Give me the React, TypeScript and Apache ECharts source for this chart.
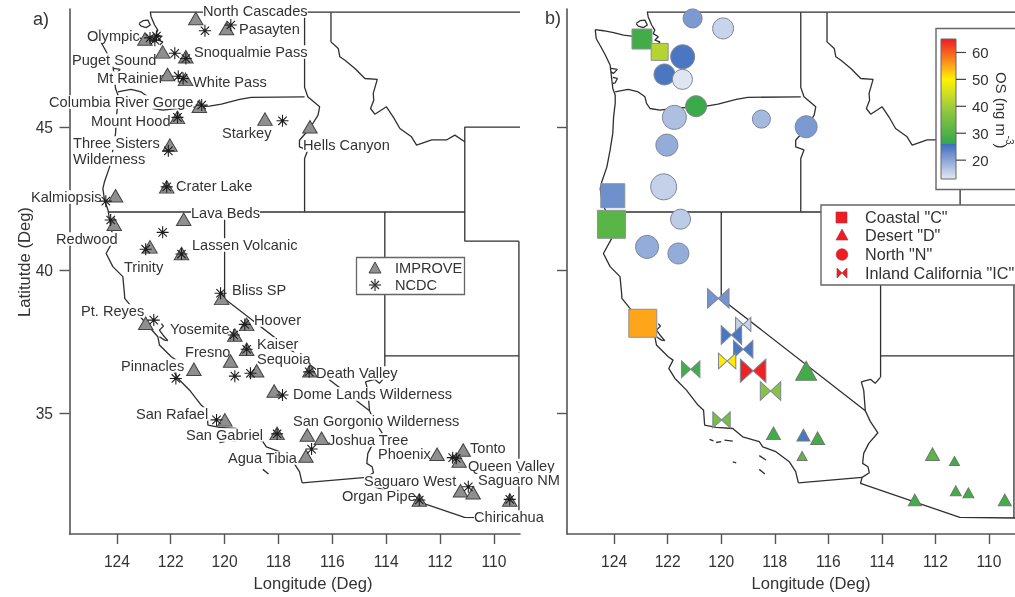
import React, { useEffect, useRef } from "react";
import * as echarts from "echarts";

// ---- IMPROVE sites (lon W as positive degrees, lat N) ----
const siteNames = ["North Cascades","Pasayten","Olympic","Puget Sound","Snoqualmie Pass","Mt Rainier","White Pass","Columbia River Gorge","Mount Hood","Starkey","Hells Canyon","Three Sisters","Crater Lake","Kalmiopsis","Redwood","Lava Beds","Trinity","Lassen Volcanic","Bliss SP","Pt. Reyes","Hoover","Yosemite","Kaiser","Fresno","Sequoia","Pinnacles","Death Valley","Dome Lands","San Rafael","San Gabriel","San Gorgonio","Joshua Tree","Agua Tibia","Phoenix","Tonto","Queen Valley","Saguaro West","Saguaro NM","Organ Pipe","Chiricahua"];
const siteLon = [121.07,119.93,122.96,122.30,121.44,122.12,121.45,120.94,121.75,118.50,116.83,122.03,122.15,124.05,124.10,121.52,122.77,121.60,120.11,122.93,119.18,119.62,119.18,119.78,118.81,121.14,116.83,118.16,119.99,118.05,116.93,116.40,116.98,112.11,111.14,111.29,111.24,110.77,112.77,109.41];
const siteLat = [48.80,48.45,48.08,47.63,47.46,46.84,46.67,45.73,45.34,45.28,45.01,44.37,42.91,42.60,41.60,41.78,40.81,40.58,39.01,38.14,38.10,37.73,37.23,36.82,36.48,36.53,36.48,35.77,34.76,34.29,34.23,34.12,33.50,33.56,33.71,33.32,32.28,32.21,31.96,31.96];

// ---- NCDC stations ----
const ncdcLon = [120.73,119.77,122.77,122.53,122.59,121.85,121.44,121.72,121.54,120.85,121.75,117.85,122.09,122.15,124.41,124.23,122.30,122.93,121.60,120.15,122.63,119.25,119.66,119.18,119.62,119.04,121.81,116.86,117.85,120.30,118.05,116.77,111.53,111.40,110.95,112.77,109.41];
const ncdcLat = [48.37,48.57,48.12,48.18,48.04,47.58,47.40,46.78,46.70,45.77,45.34,45.22,44.17,42.91,42.41,41.75,41.32,40.73,40.56,39.19,38.25,38.10,37.73,37.23,36.29,36.39,36.21,36.44,35.63,34.76,34.27,33.74,33.44,33.42,32.42,31.96,31.98];

// ---- Panel b: organic sulphate by source group ----
const coastalSites = ["Olympic","Puget Sound","Kalmiopsis","Redwood","Pt. Reyes"];
const coastalOS = [28,42,22.2,31,55];
const coastalSize = [20,17,24,28,28];
const northSites = ["North Cascades","Pasayten","Snoqualmie Pass","Mt Rainier","White Pass","Columbia River Gorge","Mount Hood","Starkey","Hells Canyon","Three Sisters","Crater Lake","Lava Beds","Trinity","Lassen Volcanic"];
const northOS = [21.2,15.2,25,25,13.3,27,17.3,18,21.2,19.3,15.5,16.1,19.3,19.3];
const northSize = [19,21,24,21,20,21,24,18,22,22,26,20,23,21];
const inlandSites = ["Bliss SP","Hoover","Yosemite","Kaiser","Fresno","Sequoia","Pinnacles","Dome Lands","San Rafael"];
const inlandOS = [21.8,15.4,25,25,50.5,64.5,28,37,35];
const inlandSize = [21,15,20,19,17,25,18,20,17];
const desertSites = ["Death Valley","San Gabriel","San Gorgonio","Joshua Tree","Agua Tibia","Phoenix","Queen Valley","Saguaro West","Saguaro NM","Organ Pipe","Chiricahua"];
const desertOS = [28,28,25,28,32,31,28,28,28,28,28];
const desertSize = [21,14,13,14,10,14,10,11,11,13,13];

// ---- Colour scale ----
const osStops: [number, string][] = [[13,"#e4e9f2"],[25.9,"#3f6dbe"],[26,"#33a84a"],[38,"#8ec63f"],[43,"#c0d72e"],[50,"#fff200"],[55,"#ffa51a"],[60,"#f6601e"],[65,"#ed1c24"]];
const osTicks = [20,30,40,50,60];

// ---- Map outlines, [lon, lat] ----
const border49: number[][] = [[122.77,49.02],[109.03,49.02]];
const waIdOr: number[][] = [[117.03,49.02],[117.03,46.39],[116.91,46.06],[116.47,45.71],[116.53,45.42],[116.84,44.95],[117.22,44.54],[117.22,44.31],[116.91,44.20],[117.03,43.90],[117.03,42.04]];
const columbia: number[][] = [[117.03,46.06],[119.01,46.04],[119.44,45.97],[120.12,45.80],[120.56,45.73],[120.99,45.71],[121.80,45.65],[122.29,45.59],[122.66,45.65],[122.79,45.83],[122.85,46.06],[123.10,46.23],[123.47,46.32],[123.78,46.27],[123.96,46.23]];
const lat42: number[][] = [[124.33,42.03],[111.08,42.03]];
const idMt: number[][] = [[116.05,49.01],[116.05,47.98],[115.78,47.75],[115.72,47.46],[115.53,47.34],[115.16,47.05],[114.79,46.70],[114.33,46.67],[114.48,46.18],[114.46,45.94],[114.58,45.65],[114.42,45.45],[113.99,45.71],[113.74,45.36],[113.49,44.95],[113.06,44.66],[112.87,44.37],[112.31,44.55],[111.76,44.55],[111.45,44.72],[111.08,44.49]];
const wyWest: number[][] = [[109.03,45.0],[111.08,45.0],[111.08,41.01],[109.07,41.01]];
const azUt: number[][] = [[114.05,37.0],[109.07,37.0]];
const nmWest: number[][] = [[109.07,41.01],[109.07,31.33]];
const nvUt: number[][] = [[114.05,42.03],[114.05,36.25]];
const caNv: number[][] = [[120,42.03],[120,39.0],[114.62,35.08]];
const azSouth: number[][] = [[114.74,32.75],[114.80,32.54],[111.09,31.35],[109.03,31.33]];
const caSouth: number[][] = [[117.12,32.56],[114.74,32.75]];
const coast: number[][] = [[124.705,48.41],[124.67,48.10],[124.46,47.75],[124.33,47.52],[124.15,47.17],[124.12,46.93],[124.05,46.35],[123.96,46.12],[123.96,45.83],[124.02,45.36],[124.05,44.78],[124.15,44.20],[124.27,43.61],[124.46,43.09],[124.52,42.85],[124.46,42.45],[124.33,42.10],[124.21,41.40],[124.09,41.11],[124.40,40.58],[124.15,40.12],[123.78,39.77],[123.72,39.18],[123.71,39.01],[123.41,38.66],[122.91,38.13],[122.48,37.67],[122.42,37.38],[121.98,36.97],[121.80,36.85],[121.96,36.56],[121.73,36.21],[121.30,35.80],[120.87,35.28],[120.66,35.10],[120.62,34.58],[120.19,34.50],[119.57,34.46],[119.20,34.17],[118.58,34.00],[118.45,33.82],[117.96,33.65],[117.46,33.30],[117.22,32.95],[117.12,32.56]];
const colorado: number[][] = [[114.74,32.75],[114.47,32.91],[114.52,33.12],[114.72,33.24],[114.68,33.59],[114.49,33.94],[114.15,34.31],[114.43,34.70],[114.62,35.08],[114.65,35.45],[114.68,35.80],[114.77,36.09],[114.43,36.18],[114.25,36.04],[114.06,36.25]];
const strait: number[][] = [[124.705,48.41],[124.40,48.37],[124.02,48.30],[123.65,48.22],[123.34,48.18],[122.97,48.06],[122.60,47.98]];
const sanJuan: number[][] = [[123.18,48.62],[123.03,48.72],[122.85,48.74],[122.76,48.57],[122.91,48.48],[123.10,48.53],[123.18,48.62]];
const puget: number[][] = [[122.76,49.03],[122.73,48.86],[122.60,48.57],[122.48,48.39],[122.54,48.27],[122.35,48.16],[122.48,48.04],[122.29,47.98],[122.41,47.87]];
const graysHarbor: number[][] = [[124.12,47.05],[123.88,47.02],[124.02,46.88],[124.12,46.93]];
const willapa: number[][] = [[124.05,46.74],[123.88,46.70],[123.96,46.55],[124.05,46.53]];
const sfBay: number[][] = [[122.35,38.13],[122.27,38.04],[122.42,37.90],[122.29,37.73],[122.11,37.53],[122.23,37.55],[122.42,37.67]];
const islandA: number[][] = [[120.44,34.08],[120.29,34.03]];
const islandB: number[][] = [[120.19,33.97],[120.00,34.00]];
const islandC: number[][] = [[119.88,34.05],[119.57,34.02]];
const islandD: number[][] = [[119.57,33.29],[119.44,33.26]];
const islandE: number[][] = [[118.58,33.51],[118.33,33.36]];
const islandF: number[][] = [[118.58,33.03],[118.37,32.87]];
const outlines = [border49,waIdOr,columbia,lat42,idMt,wyWest,azUt,nmWest,nvUt,caNv,azSouth,caSouth,coast,colorado,strait,sanJuan,puget,graysHarbor,willapa,sfBay,islandA,islandB,islandC,islandD,islandE,islandF];

const lonTicks = [124,122,120,118,116,114,112,110];
const latTicks = [45,40,35];

const FONT = "'Liberation Sans', Arial, sans-serif";
const TXT = "#333";
const STAR = "path://M0 -10L0 10M-10 0L10 0M-7 -7L7 7M-7 7L7 -7";
const BOW = "path://M0 0L-10 -10L-10 10ZM0 0L10 -10L10 10Z";

function hex(c: string) { return [1,3,5].map(i => parseInt(c.slice(i,i+2),16)); }
function osColor(v: number) {
  for (let i = 1; i < osStops.length; i++) {
    if (v <= osStops[i][0]) {
      const [a, ca] = osStops[i-1]; const [b, cb] = osStops[i];
      const t = Math.max(0,(v-a)/(b-a)); const A = hex(ca), B = hex(cb);
      return `rgb(${A.map((x,k)=>Math.round(x+(B[k]-x)*t)).join(",")})`;
    }
  }
  return osStops[osStops.length-1][1];
}

// label layout for panel a: [text, left px, centre-y px]
const labelLayout: [string, number, number][] = [
  ["North Cascades",203,11],["Pasayten",239,29],["Olympic",87,36],["Snoqualmie Pass",194,52],["Puget Sound",72,60],
  ["Mt Rainier",97,78],["White Pass",193,82],["Columbia River Gorge",49,102],["Mount Hood",91,121],["Starkey",222,133],
  ["Hells Canyon",303,145],["Three Sisters",73,143],["Wilderness",73,159],["Crater Lake",176,186],["Kalmiopsis",31,197],["Lava Beds",191,213],
  ["Redwood",56,239],["Lassen Volcanic",192,245],["Trinity",124,267],["Bliss SP",232,290],["Pt. Reyes",81,311],
  ["Hoover",254,320],["Yosemite",170,329],["Kaiser",257,344],["Fresno",185,352],["Sequoia",257,359],["Pinnacles",121,366],
  ["Death Valley",316,373],["Dome Lands Wilderness",293,394],["San Rafael",136,414],["San Gorgonio Wilderness",293,421],
  ["San Gabriel",186,435],["Joshua Tree",328,440],["Agua Tibia",228,458],["Phoenix",378,454],["Tonto",470,448],
  ["Queen Valley",468,465.5],["Saguaro NM",478,479.5],["Saguaro West",364,481],["Organ Pipe",342,496],["Chiricahua",474,517],
];

function txt(text: string, x: number, y: number, size: number, z = 2, extra: any = {}, styleExtra: any = {}) {
  return { type: "text", x, y, z, silent: true, ...extra,
    style: { text, font: `${size}px ${FONT}`, fill: TXT, verticalAlign: "middle", align: "left", lineHeight: 13.5, ...styleExtra } };
}
function seg(x1: number, y1: number, x2: number, y2: number, z = 6, color = "#333", lineWidth = 1.2) {
  return { type: "line", z, silent: true, shape: { x1, y1, x2, y2 }, style: { stroke: color, lineWidth } };
}

function buildOption() {
  const grids = [0, 1];
  const xAxis = grids.map(i => ({
    type: "value", gridIndex: i, min: 109.03, max: 125.76, inverse: true,
    splitLine: { show: false },
    axisLine: { show: true, onZero: false, lineStyle: { color: "#555", width: 1.6 } },
    axisTick: { show: true, length: 10, customValues: lonTicks, lineStyle: { color: "#555", width: 1.4 } },
    axisLabel: { show: true, margin: 19, customValues: lonTicks, color: TXT, fontSize: 15.6, fontFamily: FONT, formatter: (v: number) => String(v) },
  }));
  const yAxis = grids.map(i => ({
    type: "value", gridIndex: i, min: 30.77, max: 49.13,
    splitLine: { show: false },
    axisLine: { show: true, onZero: false, lineStyle: { color: "#555", width: 1.6 } },
    axisTick: { show: true, length: 10, customValues: latTicks, lineStyle: { color: "#555", width: 1.4 } },
    axisLabel: { show: i === 0, margin: 16.5, customValues: latTicks, color: TXT, fontSize: 15.6, fontFamily: FONT, formatter: (v: number) => String(v) },
  }));

  const series: any[] = [];
  grids.forEach(i => outlines.forEach(o => series.push({
    type: "line", xAxisIndex: i, yAxisIndex: i, data: o, symbol: "none", silent: true, z: 1,
    lineStyle: { color: "#2f2f2f", width: 1.3 }, clip: false,
  })));

  series.push({
    name: "IMPROVE", type: "scatter", xAxisIndex: 0, yAxisIndex: 0, symbol: "triangle", symbolSize: [14.5, 12.5], z: 3,
    itemStyle: { color: "#8f8f8f", borderColor: "#444", borderWidth: 1, opacity: 1 },
    data: siteLon.map((x, k) => [x, siteLat[k]]),
  });
  series.push({
    name: "NCDC", type: "scatter", xAxisIndex: 0, yAxisIndex: 0, symbol: STAR, symbolSize: 12, z: 4,
    itemStyle: { color: "none", borderColor: "#1c1c1c", borderWidth: 1.1, opacity: 1 },
    data: ncdcLon.map((x, k) => [x, ncdcLat[k]]),
  });

  const group = (name: string, symbol: string, sites: string[], os: number[], size: number[], sz: (s: number) => any, border: string, z: number) => {
    series.push({
      name, type: "scatter", xAxisIndex: 1, yAxisIndex: 1, symbol, z,
      data: sites.map((s, k) => {
        const idx = siteNames.indexOf(s);
        return { value: [siteLon[idx], siteLat[idx], os[k]], symbolSize: sz(size[k]),
          itemStyle: { color: osColor(os[k]), borderColor: border, borderWidth: 1, opacity: 1 } };
      }),
    });
  };
  group('North "N"', "circle", northSites, northOS, northSize, s => s, "#7d8796", 3);
  group('Coastal "C"', "rect", coastalSites, coastalOS, coastalSize, s => s, "#8d9197", 3);
  group('Inland California "IC"', BOW, inlandSites, inlandOS, inlandSize, s => [s * 1.02, s * 0.93], "#7d8796", 4);
  group('Desert "D"', "triangle", desertSites, desertOS, desertSize, s => [s, s * 0.9], "#6d7a6d", 3);

  const gradStops: any[] = [...osStops].reverse().map(([v, c]) => ({ offset: (65 - v) / 52, color: c }));

  // colour bar pixel mapping
  const barTop = 39, barH = 140;
  const barY = (v: number) => barTop + ((65 - v) / 52) * barH;

  const graphics: any[] = [
    txt("a)", 33, 19, 18),
    txt("b)", 545, 18, 18),
    txt("Longitude (Deg)", 313, 583, 16.6, 2, {}, { align: "center" }),
    txt("Longitude (Deg)", 811, 583, 16.6, 2, {}, { align: "center" }),
    txt("Latitutde (Deg)", 24, 262, 16.6, 2, { rotation: Math.PI / 2 }, { align: "center" }),
    ...labelLayout.map(([t, x, y]) => txt(t, x, y, 14.6, 2, {}, { backgroundColor: "#fff" })),

    // legend a
    { type: "rect", z: 5, silent: true, shape: { x: 356.5, y: 257.5, width: 108, height: 37 }, style: { fill: "#fff", stroke: "#666", lineWidth: 1.3 } },
    { type: "polygon", z: 6, silent: true, shape: { points: [[375, 262], [381, 273], [369, 273]] }, style: { fill: "#8f8f8f", stroke: "#444", lineWidth: 1 } },
    seg(375, 279, 375, 291), seg(369, 285, 381, 285), seg(371, 281, 379, 289), seg(371, 289, 379, 281),
    txt("IMPROVE", 395, 268, 14.6, 6),
    txt("NCDC", 395, 285, 14.6, 6),

    // legend b
    { type: "rect", z: 5, silent: true, shape: { x: 821, y: 205, width: 230, height: 80 }, style: { fill: "#fff", stroke: "#666", lineWidth: 1.4 } },
    { type: "rect", z: 6, silent: true, shape: { x: 836, y: 212, width: 11, height: 11 }, style: { fill: "#ee1c25", stroke: "#a33", lineWidth: 0.6 } },
    { type: "polygon", z: 6, silent: true, shape: { points: [[842, 229], [848, 240], [836, 240]] }, style: { fill: "#ee1c25", stroke: "#a33", lineWidth: 0.6 } },
    { type: "circle", z: 6, silent: true, shape: { cx: 842, cy: 254.5, r: 5.8 }, style: { fill: "#ee1c25", stroke: "#a33", lineWidth: 0.6 } },
    { type: "polygon", z: 6, silent: true, shape: { points: [[842, 273], [837, 268], [837, 278]] }, style: { fill: "#ee1c25", stroke: "#a33", lineWidth: 0.6 } },
    { type: "polygon", z: 6, silent: true, shape: { points: [[842, 273], [847, 268], [847, 278]] }, style: { fill: "#ee1c25", stroke: "#a33", lineWidth: 0.6 } },
    txt('Coastal "C"', 865, 217, 16.2, 6),
    txt('Desert "D"', 865, 235, 16.2, 6),
    txt('North "N"', 865, 254, 16.2, 6),
    txt('Inland California "IC"', 865, 273, 16.2, 6),

    // colour bar
    { type: "rect", z: 5, silent: true, shape: { x: 936, y: 28.5, width: 110, height: 161 }, style: { fill: "#fff", stroke: "#666", lineWidth: 1.4 } },
    { type: "rect", z: 6, silent: true, shape: { x: 941, y: barTop, width: 15, height: barH },
      style: { fill: new echarts.graphic.LinearGradient(0, 0, 0, 1, gradStops), stroke: "#666", lineWidth: 1 } },
    ...osTicks.map(v => seg(956, barY(v), 966, barY(v), 6, "#444", 1.2)),
    ...osTicks.map(v => txt(String(v), 972, barY(v), 15, 6)),
    txt("OS (ng m", 1001, 104, 15, 6, { rotation: -Math.PI / 2 }, { align: "center" }),
    txt("-3", 1009, 140, 10, 6, { rotation: -Math.PI / 2 }, { align: "center" }),
    txt(")", 1001, 146, 15, 6, { rotation: -Math.PI / 2 }, { align: "center" }),
  ];

  return {
    animation: false,
    backgroundColor: "#fff",
    grid: [
      { left: 69.5, top: 9, width: 450.5, height: 525 },
      { left: 567, top: 9, width: 450.5, height: 525 },
    ],
    xAxis, yAxis, series, graphic: { elements: graphics },
  };
}

export default function App() {
  const ref = useRef<HTMLDivElement>(null);
  useEffect(() => {
    const chart = echarts.init(ref.current!, undefined, { renderer: "svg" });
    chart.setOption(buildOption() as any);
    return () => chart.dispose();
  }, []);
  return <div ref={ref} style={{ position: "fixed", left: 0, top: 0, width: 1015, height: 597, background: "#fff", filter: "blur(0.35px)" }} />;
}
